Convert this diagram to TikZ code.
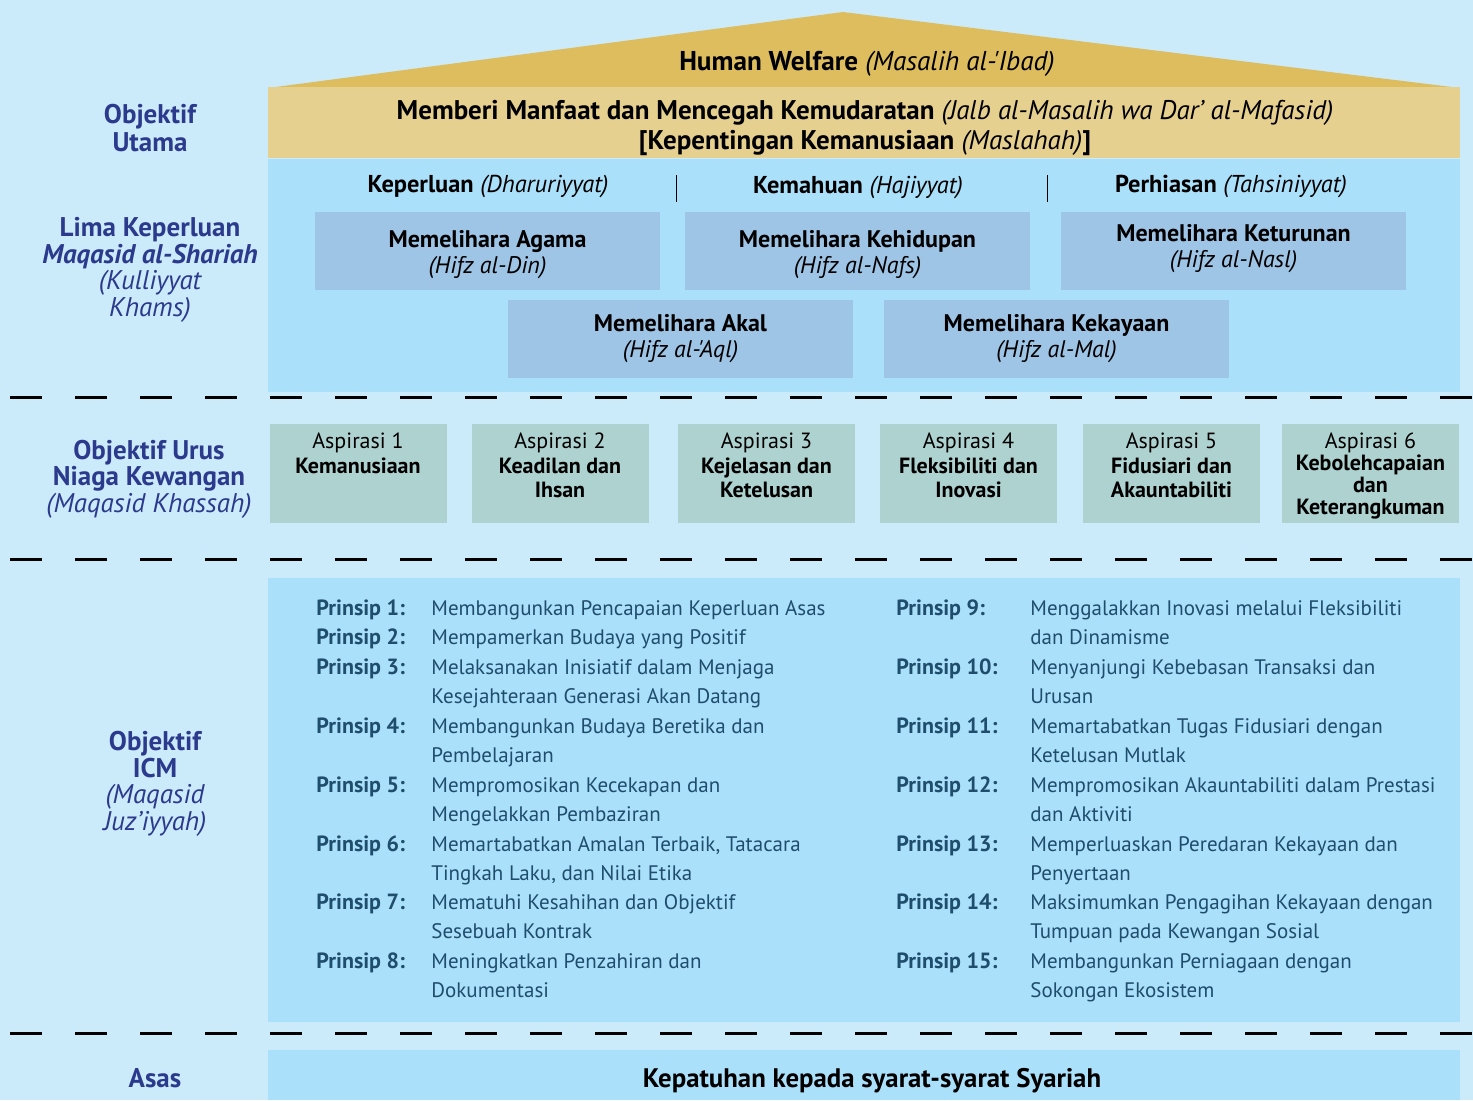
\documentclass[tikz,border=0pt]{standalone}
\usepackage{fontspec}
\setmainfont{PT Sans}[Ligatures=TeXOff]
\usetikzlibrary{positioning}

\definecolor{bgblue}{HTML}{CBEAFA}
\definecolor{panelblue}{HTML}{AAE0FA}
\definecolor{boxblue}{HTML}{9EC4E6}
\definecolor{aspgreen}{HTML}{AED2CF}
\definecolor{roofgold}{HTML}{DDBD5E}
\definecolor{bandgold}{HTML}{E6D08F}
\definecolor{navy}{HTML}{2B3A8C}
\definecolor{slate}{HTML}{1F4D6C}

% lines of a principle, baseline at the first line
\newcommand{\plines}[1]{\vtop{\baselineskip=14.7pt\halign{##\hfil\cr#1\crcr}}}

\tikzset{
  sidelbl/.style={text=navy,align=center,font=\fontsize{13.5}{13.3}\selectfont\bfseries},
  mbox/.style={fill=boxblue,minimum width=172.5pt,minimum height=39pt,inner sep=0pt},
  mtxt/.style={align=center,inner sep=0pt,font=\fontsize{12}{13}\selectfont},
  aspbox/.style={fill=aspgreen,minimum width=88.5pt,minimum height=49.5pt,inner sep=0pt},
  asptxt/.style={align=center,inner sep=0pt,anchor=north,font=\fontsize{11}{12.25}\selectfont},
  prlbl/.style={anchor=base west,inner sep=0pt,text=slate,font=\fontsize{11}{14.7}\selectfont\bfseries},
  prtxt/.style={anchor=base west,inner sep=0pt,text=slate,font=\fontsize{10.5}{14.7}\selectfont},
  dashline/.style={line width=1.5pt,dash pattern=on 16pt off 16.5pt}
}

\begin{document}
\begin{tikzpicture}[x=0.5pt,y=-0.5pt]
\fill[bgblue] (0,0) rectangle (1473,1100);
\useasboundingbox (0,0) rectangle (1473,1100);

% roof and main objective
\fill[roofgold] (268,88) -- (843,12) -- (1460,88) -- cycle;
\fill[bandgold] (268,87) rectangle (1460,158);
\node[font=\fontsize{13.6}{15}\selectfont] (welfare) at (867,64) {\textbf{Human Welfare} \textit{(Masalih al-'Ibad)}};
\node[align=center,font=\fontsize{13.5}{15}\selectfont] (manfaat) at (865,128)
  {\textbf{Memberi Manfaat dan Mencegah Kemudaratan} \textit{(Jalb al-Masalih wa Dar’ al-Mafasid)}\\
   \textbf{[Kepentingan Kemanusiaan} \textit{(Maslahah)}\textbf{]}};

% five necessities
\fill[panelblue] (268,159) rectangle (1460,392);
\node[font=\fontsize{12.2}{13}\selectfont] (keperluan) at (488,186) {\textbf{Keperluan} \textit{(Dharuriyyat)}};
\node[font=\fontsize{12.2}{13}\selectfont] (kemahuan) at (858,187) {\textbf{Kemahuan} \textit{(Hajiyyat)}};
\node[font=\fontsize{12.2}{13}\selectfont] (perhiasan) at (1231,186) {\textbf{Perhiasan} \textit{(Tahsiniyyat)}};
\draw[line width=0.5pt] (676,175) -- (676,202);
\draw[line width=0.5pt] (1047,175) -- (1047,202);

\node[mbox] (agama) at (487.5,251) {};
\node[mbox] (hidup) at (857.5,251) {};
\node[mbox] (turun) at (1233.5,251) {};
\node[mbox] (akal) at (680.5,339) {};
\node[mbox] (kaya) at (1056.5,339) {};
\node[mtxt] (agamat) at ([yshift=-2pt]agama) {\textbf{Memelihara Agama}\\\textit{(Hifz al-Din)}};
\node[mtxt] (hidupt) at ([yshift=-2pt]hidup) {\textbf{Memelihara Kehidupan}\\\textit{(Hifz al-Nafs)}};
\node[mtxt] (turunt) at ([yshift=1pt]turun) {\textbf{Memelihara Keturunan}\\\textit{(Hifz al-Nasl)}};
\node[mtxt] (akalt) at (akal) {\textbf{Memelihara Akal}\\\textit{(Hifz al-'Aql)}};
\node[mtxt] (kayat) at (kaya) {\textbf{Memelihara Kekayaan}\\\textit{(Hifz al-Mal)}};

\node[sidelbl,font=\fontsize{13.5}{14}\selectfont\bfseries] (utama) at (150,128) {Objektif\\Utama};
\node[sidelbl] (lima) at (150,270)
  {{\bfseries Lima Keperluan}\\{\bfseries\itshape Maqasid al-Shariah}\\{\mdseries\itshape (Kulliyyat}\\{\mdseries\itshape Khams)}};

\draw[dashline] (10,397) -- (1473,397);

% aspirations
\node[sidelbl] (urus) at (149,479)
  {Objektif Urus\\Niaga Kewangan\\{\mdseries\itshape (Maqasid Khassah)}};
\node[aspbox] (a1) at (358,473.5) {};
\node[aspbox] (a2) at (560,473.5) {};
\node[aspbox] (a3) at (766.5,473.5) {};
\node[aspbox] (a4) at (968.5,473.5) {};
\node[aspbox] (a5) at (1171.5,473.5) {};
\node[aspbox] (a6) at (1370.5,473.5) {};
\node[asptxt,below=4.5pt of a1.north] (a1t) {Aspirasi 1\\\textbf{Kemanusiaan}};
\node[asptxt,below=4.5pt of a2.north] (a2t) {Aspirasi 2\\\textbf{Keadilan dan}\\\textbf{Ihsan}};
\node[asptxt,below=4.5pt of a3.north] (a3t) {Aspirasi 3\\\textbf{Kejelasan dan}\\\textbf{Ketelusan}};
\node[asptxt,below=4.5pt of a4.north] (a4t) {Aspirasi 4\\\textbf{Fleksibiliti dan}\\\textbf{Inovasi}};
\node[asptxt,below=4.5pt of a5.north] (a5t) {Aspirasi 5\\\textbf{Fidusiari dan}\\\textbf{Akauntabiliti}};
\node[asptxt,below=4.5pt of a6.north,font=\fontsize{11}{11}\selectfont] (a6t) {Aspirasi 6\\\textbf{Kebolehcapaian}\\\textbf{dan}\\\textbf{Keterangkuman}};

\draw[dashline] (10,559) -- (1473,559);

% principles
\fill[panelblue] (268,578) rectangle (1460,1022);
\node[sidelbl] (icm) at (155,784)
  {Objektif\\ICM\\{\mdseries\itshape (Maqasid}\\{\mdseries\itshape Juz’iyyah)}};
\foreach \y/\lab/\txt [count=\i] in {
  608/{Prinsip 1:}/{Membangunkan Pencapaian Keperluan Asas},
  637/{Prinsip 2:}/{Mempamerkan Budaya yang Positif},
  667/{Prinsip 3:}/{Melaksanakan Inisiatif dalam Menjaga\cr Kesejahteraan Generasi Akan Datang},
  726/{Prinsip 4:}/{Membangunkan Budaya Beretika dan\cr Pembelajaran},
  785/{Prinsip 5:}/{Mempromosikan Kecekapan dan\cr Mengelakkan Pembaziran},
  844/{Prinsip 6:}/{Memartabatkan Amalan Terbaik, Tatacara\cr Tingkah Laku, dan Nilai Etika},
  902/{Prinsip 7:}/{Mematuhi Kesahihan dan Objektif\cr Sesebuah Kontrak},
  961/{Prinsip 8:}/{Meningkatkan Penzahiran dan\cr Dokumentasi}}{
  \node[prlbl] (p\i) at (316,\y+7) {\lab};
  \node[prtxt] (q\i) at (431,\y+7) {\plines{\txt}};
}
\foreach \y/\lab/\txt [count=\i from 9] in {
  608/{Prinsip 9:}/{Menggalakkan Inovasi melalui Fleksibiliti\cr dan Dinamisme},
  667/{Prinsip 10:}/{Menyanjungi Kebebasan Transaksi dan\cr Urusan},
  726/{Prinsip 11:}/{Memartabatkan Tugas Fidusiari dengan\cr Ketelusan Mutlak},
  785/{Prinsip 12:}/{Mempromosikan Akauntabiliti dalam Prestasi\cr dan Aktiviti},
  844/{Prinsip 13:}/{Memperluaskan Peredaran Kekayaan dan\cr Penyertaan},
  902/{Prinsip 14:}/{Maksimumkan Pengagihan Kekayaan dengan\cr Tumpuan pada Kewangan Sosial},
  961/{Prinsip 15:}/{Membangunkan Perniagaan dengan\cr Sokongan Ekosistem}}{
  \node[prlbl] (p\i) at (896,\y+7) {\lab};
  \node[prtxt] (q\i) at (1030,\y+7) {\plines{\txt}};
}

\draw[dashline] (10,1033) -- (1473,1033);

% foundation
\fill[panelblue] (268,1050) rectangle (1460,1100);
\node[sidelbl] (asas) at (155,1078) {Asas};
\node[font=\fontsize{13.4}{14}\selectfont\bfseries] (patuh) at (872,1081) {Kepatuhan kepada syarat-syarat Syariah};
\end{tikzpicture}
\end{document}
